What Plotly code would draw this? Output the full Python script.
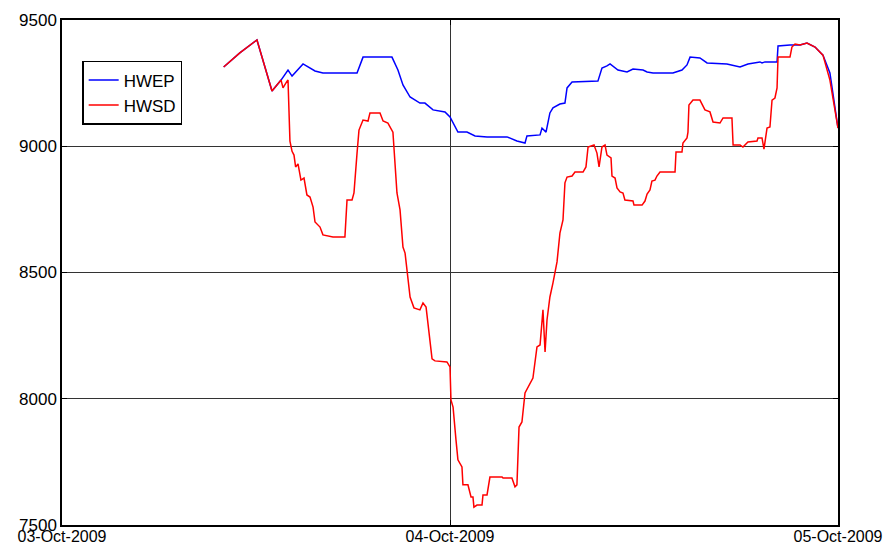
import pandas as pd
import plotly.graph_objects as go

# Hours elapsed since 03-Oct-2009 00:00 and the corresponding level for each series
hwep_hours = [10.0, 11.0, 12.06, 12.99, 13.55, 13.98, 14.23, 14.91, 15.65, 16.14, 18.25, 18.62,
              20.41, 20.78, 21.09, 21.53, 22.14, 22.45, 22.95, 23.69, 24.0, 24.49, 25.05,
              25.55, 26.29, 27.53, 28.14, 28.64, 28.76, 29.57, 29.69, 29.94, 30.18, 30.37,
              30.80, 31.11, 31.24, 31.55, 33.15, 33.40, 33.71, 33.90, 34.39, 34.95, 35.32,
              35.94, 36.19, 36.56, 37.79, 38.35, 38.66, 38.85, 39.46, 39.90, 41.13, 41.94,
              42.43, 43.17, 43.30, 43.48, 44.23, 44.29, 45.03, 45.65, 46.08, 46.58, 47.07,
              47.50, 48.0]
hwep_values = [9314, 9370, 9421, 9219, 9262, 9302, 9278, 9326, 9298, 9290, 9290, 9353,
               9353, 9302, 9243, 9195, 9171, 9171, 9144, 9136, 9116, 9056, 9056,
               9041, 9037, 9037, 9021, 9013, 9041, 9045, 9072, 9056, 9132, 9152,
               9167, 9171, 9231, 9254, 9258, 9310, 9318, 9326, 9302, 9294, 9306,
               9302, 9294, 9290, 9290, 9302, 9322, 9353, 9350, 9330, 9326, 9314,
               9326, 9334, 9330, 9334, 9334, 9397, 9401, 9401, 9409, 9393, 9361,
               9290, 9072]

hwsd_hours = [10.0, 11.0, 12.06, 12.99, 13.55, 13.67, 13.92, 13.98, 14.10, 14.23, 14.35, 14.45,
              14.60, 14.78, 14.97, 15.15, 15.34, 15.53, 15.65, 15.96, 16.14, 16.76, 17.50,
              17.63, 17.94, 18.06, 18.25, 18.37, 18.62, 18.93, 19.05, 19.67, 19.86, 20.16,
              20.47, 20.60, 20.72, 20.91, 21.09, 21.22, 21.34, 21.53, 21.77, 22.14, 22.33,
              22.52, 22.89, 23.07, 23.81, 24.0, 24.06, 24.19, 24.37, 24.49, 24.74, 24.80,
              25.11, 25.30, 25.42, 25.48, 25.67, 25.98, 26.04, 26.29, 26.47, 27.22, 27.28,
              27.83, 28.02, 28.14, 28.27, 28.45, 28.64, 28.82, 29.13, 29.38, 29.57, 29.75,
              29.88, 30.00, 30.18, 30.37, 30.49, 30.62, 30.80, 30.99, 31.11, 31.24, 31.55,
              31.73, 32.23, 32.41, 32.54, 32.91, 33.09, 33.22, 33.40, 33.59, 33.71, 33.96,
              34.02, 34.21, 34.33, 34.52, 34.70, 34.82, 35.32, 35.38, 35.88, 36.06, 36.19,
              36.37, 36.49, 36.68, 36.80, 36.99, 37.92, 37.98, 38.35, 38.41, 38.66, 38.72,
              38.78, 39.03, 39.46, 39.77, 40.08, 40.27, 40.70, 40.89, 41.44, 41.51, 41.94,
              42.12, 42.43, 42.99, 43.05, 43.30, 43.42, 43.61, 43.79, 43.92, 44.10, 44.23,
              44.29, 45.03, 45.15, 45.34, 45.65, 46.08, 46.58, 47.07, 47.50, 48.0]
hwsd_values = [9314, 9370, 9421, 9219, 9262, 9231, 9258, 9262, 9020, 8980, 8965, 8918,
               8930, 8866, 8874, 8807, 8799, 8759, 8700, 8680, 8649, 8641, 8641,
               8787, 8787, 8815, 8973, 9064, 9104, 9100, 9132, 9132, 9100, 9092,
               9056, 8934, 8815, 8748, 8601, 8577, 8510, 8403, 8360, 8352, 8379,
               8363, 8158, 8150, 8146, 8126, 7995, 7967, 7837, 7758, 7730, 7659,
               7659, 7611, 7611, 7571, 7579, 7579, 7619, 7619, 7690, 7690, 7686,
               7686, 7651, 7659, 7888, 7908, 8023, 8047, 8082, 8205, 8213, 8352,
               8185, 8312, 8403, 8459, 8502, 8542, 8656, 8708, 8855, 8878, 8882,
               8898, 8898, 8918, 8997, 9005, 8973, 8918, 8997, 9005, 8965, 8954,
               8882, 8874, 8835, 8819, 8815, 8787, 8783, 8767, 8767, 8783, 8811,
               8827, 8862, 8866, 8882, 8898, 8898, 8977, 8977, 9013, 9033, 9056,
               9163, 9183, 9183, 9144, 9136, 9096, 9092, 9112, 9112, 9005, 9005,
               8997, 9017, 9021, 9033, 9033, 8989, 9072, 9076, 9183, 9191, 9231,
               9353, 9353, 9393, 9405, 9401, 9409, 9393, 9361, 9262, 9072]

x_ticks = ["2009-10-03", "2009-10-04", "2009-10-05"]
x_tick_labels = ["03-Oct-2009", "04-Oct-2009", "05-Oct-2009"]
y_ticks = [7500, 8000, 8500, 9000, 9500]

start = pd.Timestamp("2009-10-03")
hwep_time = start + pd.to_timedelta(hwep_hours, unit="h")
hwsd_time = start + pd.to_timedelta(hwsd_hours, unit="h")

fig = go.Figure()
fig.add_trace(go.Scatter(x=hwep_time, y=hwep_values, mode="lines", name="HWEP",
                         line=dict(color="#0000FF", width=1.5)))
fig.add_trace(go.Scatter(x=hwsd_time, y=hwsd_values, mode="lines", name="HWSD",
                         line=dict(color="#FF0000", width=1.5)))

font = dict(family="Liberation Sans, Arial, sans-serif", size=17, color="black")

fig.update_layout(
    width=892, height=548,
    margin=dict(l=62, r=54, t=20, b=23),
    paper_bgcolor="white", plot_bgcolor="white",
    font=font,
    showlegend=True,
    legend=dict(x=0.026, y=0.919, xanchor="left", yanchor="top",
                bgcolor="white", bordercolor="black", borderwidth=1.5,
                font=dict(family="Liberation Sans, Arial, sans-serif", size=17),
                tracegroupgap=0, itemwidth=30),
    xaxis=dict(range=[x_ticks[0], x_ticks[-1]], tickvals=x_ticks, ticktext=x_tick_labels,
               tickfont=dict(size=16), ticklabelstandoff=-4,
               showgrid=True, gridcolor="#333333", gridwidth=1, automargin=False,
               showline=True, linecolor="black", linewidth=1.5, mirror="ticks",
               ticks="inside", ticklen=5, tickcolor="black", zeroline=False),
    yaxis=dict(range=[7500, 9500], tickvals=y_ticks, automargin=False,
               showgrid=True, gridcolor="#333333", gridwidth=1,
               showline=True, linecolor="black", linewidth=1.5, mirror="ticks",
               ticks="inside", ticklen=5, tickcolor="black", zeroline=False),
)

fig.write_html("out.html")
